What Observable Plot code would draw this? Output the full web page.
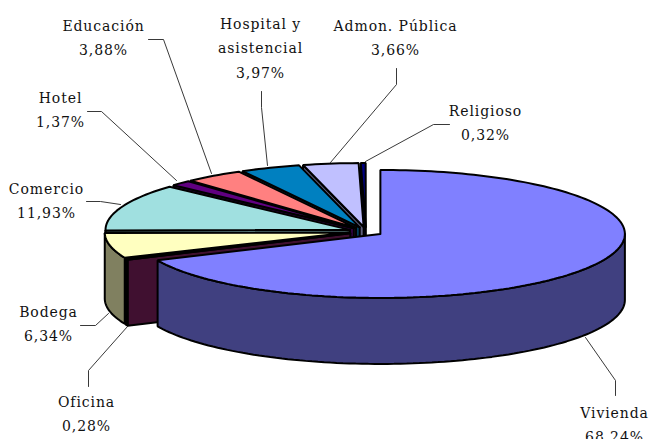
<!DOCTYPE html>
<html><head><meta charset="utf-8">
<style>html,body{margin:0;padding:0;background:#fff;overflow:hidden}</style>
<script src="https://cdn.jsdelivr.net/npm/d3@7"></script>
<script src="https://cdn.jsdelivr.net/npm/@observablehq/plot@0.6"></script>
</head><body><div id="chart"></div>
<script>
// Data, clockwise from 12 o'clock
const categories = ["Vivienda","Oficina","Bodega","Comercio","Hotel","Educación","Hospital y\nasistencial","Admon. Pública","Religioso"];
const shares = [68.24,0.28,6.34,11.93,1.37,3.88,3.97,3.66,0.32];
const topColors = ["#8080ff","#802060","#ffffc0","#a0e0e0","#600080","#ff8080","#0080c0","#c0c0ff","#000080"];
const wallColors = ["#404080","#401030","#808060","#507070","#300040","#804040","#004060","#606080","#000040"];

// Layout of the pie in the plot's coordinate system
const pie = {cx:365.5, cy:231, rx:244.5, ry:64, depth:66, explode:0.07};
const labelX = [614,86,48,46,60,103,260,395,485];
const labelY = [422,411,321,198,107,35,45,35,120];
const leaderPaths = [
  [[615,395],[615,380],[585,337]],
  [[88,386],[88,370],[127,326]],
  [[80,325],[95,325],[108,313]],
  [[86,201],[100,201],[120,204]],
  [[87,111],[101,111],[176,180]],
  [[148,39],[163,39],[211,173]],
  [[261,91],[261,107],[267,165]],
  [[396,68],[396,84],[330,162]],
  [[449,124],[433,124],[365,161]]
];

const total = 100;
const rad = d => d * Math.PI / 180;
let acc = 0;
const slices = shares.map((s,i) => {
  const a0 = acc / total * 360; acc += s;
  const a1 = acc / total * 360;
  const mid = (a0 + a1) / 2;
  return {i, a0, a1,
    cx: pie.cx + pie.explode * pie.rx * Math.sin(rad(mid)),
    cy: pie.cy - pie.explode * pie.ry * Math.cos(rad(mid))};
});
const onRim = (s,a,dz=0) => ({x: s.cx + pie.rx*Math.sin(rad(a)), y: s.cy - pie.ry*Math.cos(rad(a)) + dz});
const arcAngles = (a0,a1) => { const n = Math.max(1,Math.ceil((a1-a0)/1.5)); return d3.range(n+1).map(k => a0+(a1-a0)*k/n); };

const polys = [];
let pid = 0;
const addPoly = (pts,fill) => { const id = pid++; [...pts,pts[0]].forEach(p => polys.push({x:p.x,y:p.y,id,fill})); };
// paint from the back of the pie to the front, the largest slice last
[...slices.slice(1).reverse(), slices[0]].forEach(s => {
  if (s.a0 > 180) {
    const c = {x:s.cx,y:s.cy}, r = onRim(s,s.a0);
    addPoly([c,r,{x:r.x,y:r.y+pie.depth},{x:c.x,y:c.y+pie.depth}], wallColors[s.i]);
  }
  const w0 = Math.max(s.a0,90), w1 = Math.min(s.a1,270);
  if (w1 > w0) {
    const as = arcAngles(w0,w1);
    addPoly([...as.map(a=>onRim(s,a)), ...as.slice().reverse().map(a=>onRim(s,a,pie.depth))], wallColors[s.i]);
  }
  addPoly([{x:s.cx,y:s.cy}, ...arcAngles(s.a0,s.a1).map(a=>onRim(s,a))], topColors[s.i]);
});

const fmt = v => d3.format(".2f")(v).replace(".",",") + "%";
const labels = categories.map((c,i) => ({x:labelX[i], y:labelY[i], text:c+"\n"+fmt(shares[i])}));
const leaders = leaderPaths.flatMap((p,i) => p.map(([x,y]) => ({x,y,i})));

const plot = Plot.plot({
  width:649, height:439,
  marginTop:0, marginRight:0, marginBottom:0, marginLeft:0,
  x:{domain:[0,649], axis:null},
  y:{domain:[439,0], axis:null},
  style:{background:"#fff", letterSpacing:"0.9px"},
  marks:[
    Plot.line(leaders,{x:"x",y:"y",z:"i",stroke:"#222",strokeWidth:0.9}),
    Plot.line(polys,{x:"x",y:"y",z:"id",fill:"fill",stroke:"#000",strokeWidth:2,strokeLinejoin:"miter"}),
    Plot.text(labels,{x:"x",y:"y",text:"text",fontFamily:"DejaVu Serif",fontSize:14,lineHeight:1.74,fill:"#111",textAnchor:"middle"})
  ]
});
document.getElementById("chart").appendChild(plot);
</script></body></html>
